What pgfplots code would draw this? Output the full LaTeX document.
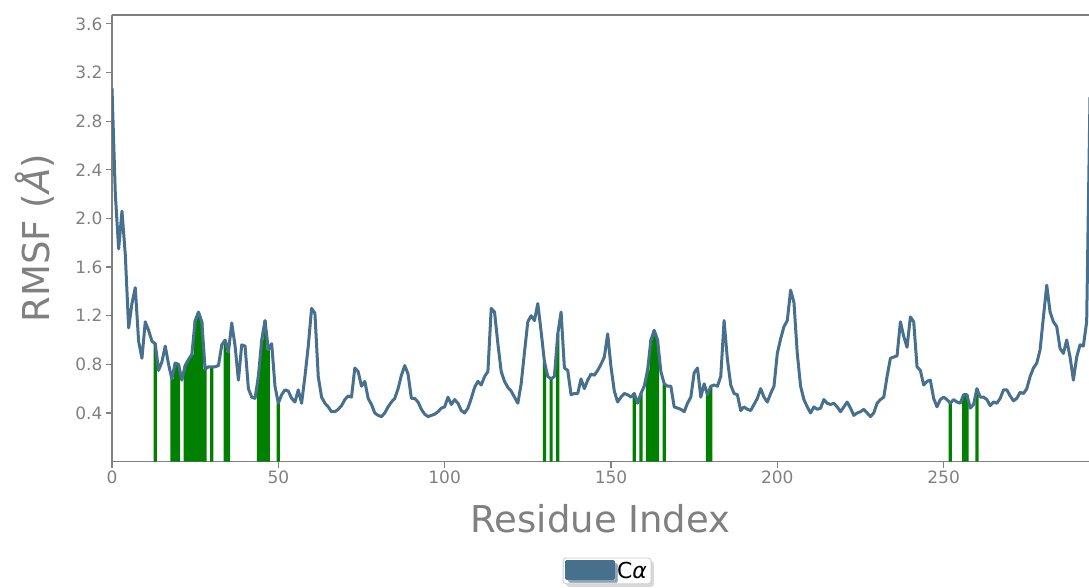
\documentclass[border=0pt]{standalone}
\usepackage{pgfplots}
\pgfplotsset{compat=1.18}
\usepackage{pgfplotstable}
\usepackage{fontspec}
\setmainfont{DejaVu Sans}
\usetikzlibrary{shadows}
\definecolor{rmsf}{HTML}{47708E}
\definecolor{bargreen}{HTML}{008000}
\definecolor{axgray}{HTML}{808080}

\pgfplotstableread{
r v
0 3.07
1 2.20
2 1.75
3 2.06
4 1.70
5 1.10
6 1.30
7 1.43
8 0.99
9 0.85
10 1.15
11 1.08
12 0.99
13 0.97
14 0.75
15 0.82
16 0.95
17 0.80
18 0.68
19 0.81
20 0.80
21 0.67
22 0.79
23 0.84
24 0.88
25 1.16
26 1.23
27 1.15
28 0.76
29 0.78
30 0.78
31 0.78
32 0.79
33 0.96
34 1.00
35 0.90
36 1.14
37 0.95
38 0.67
39 0.96
40 0.95
41 0.60
42 0.53
43 0.52
44 0.70
45 1.00
46 1.16
47 0.92
48 0.97
49 0.62
50 0.48
51 0.55
52 0.59
53 0.58
54 0.52
55 0.49
56 0.59
57 0.48
58 0.70
59 0.95
60 1.26
61 1.22
62 0.70
63 0.53
64 0.48
65 0.45
66 0.41
67 0.41
68 0.43
69 0.46
70 0.51
71 0.54
72 0.53
73 0.77
74 0.74
75 0.62
76 0.66
77 0.52
78 0.47
79 0.40
80 0.38
81 0.37
82 0.40
83 0.45
84 0.49
85 0.52
86 0.60
87 0.71
88 0.79
89 0.72
90 0.52
91 0.52
92 0.49
93 0.43
94 0.39
95 0.37
96 0.38
97 0.39
98 0.41
99 0.44
100 0.45
101 0.53
102 0.47
103 0.51
104 0.48
105 0.42
106 0.40
107 0.44
108 0.52
109 0.61
110 0.66
111 0.63
112 0.70
113 0.74
114 1.26
115 1.23
116 0.97
117 0.74
118 0.66
119 0.61
120 0.58
121 0.53
122 0.48
123 0.64
124 0.90
125 1.15
126 1.20
127 1.16
128 1.30
129 1.07
130 0.82
131 0.70
132 0.68
133 0.70
134 1.05
135 1.23
136 0.77
137 0.75
138 0.55
139 0.56
140 0.56
141 0.68
142 0.60
143 0.67
144 0.72
145 0.71
146 0.75
147 0.80
148 0.86
149 1.05
150 0.78
151 0.58
152 0.49
153 0.53
154 0.56
155 0.55
156 0.53
157 0.56
158 0.48
159 0.56
160 0.62
161 0.75
162 1.00
163 1.08
164 1.00
165 0.74
166 0.64
167 0.62
168 0.62
169 0.45
170 0.44
171 0.43
172 0.41
173 0.48
174 0.53
175 0.73
176 0.77
177 0.53
178 0.64
179 0.55
180 0.62
181 0.63
182 0.62
183 0.70
184 1.16
185 0.84
186 0.63
187 0.56
188 0.55
189 0.42
190 0.45
191 0.43
192 0.42
193 0.47
194 0.52
195 0.60
196 0.53
197 0.49
198 0.56
199 0.62
200 0.89
201 1.01
202 1.11
203 1.16
204 1.41
205 1.31
206 0.89
207 0.62
208 0.51
209 0.45
210 0.40
211 0.45
212 0.43
213 0.44
214 0.51
215 0.48
216 0.47
217 0.48
218 0.45
219 0.41
220 0.45
221 0.49
222 0.44
223 0.38
224 0.40
225 0.41
226 0.43
227 0.40
228 0.37
229 0.40
230 0.48
231 0.51
232 0.53
233 0.70
234 0.85
235 0.86
236 0.87
237 1.15
238 1.03
239 0.94
240 1.19
241 1.15
242 0.78
243 0.75
244 0.63
245 0.66
246 0.67
247 0.52
248 0.45
249 0.51
250 0.53
251 0.51
252 0.48
253 0.51
254 0.49
255 0.48
256 0.55
257 0.55
258 0.44
259 0.47
260 0.60
261 0.53
262 0.53
263 0.51
264 0.46
265 0.49
266 0.48
267 0.52
268 0.59
269 0.59
270 0.54
271 0.50
272 0.52
273 0.57
274 0.56
275 0.60
276 0.70
277 0.77
278 0.81
279 0.92
280 1.19
281 1.45
282 1.23
283 1.15
284 1.11
285 0.93
286 0.89
287 1.00
288 0.86
289 0.67
290 0.86
291 0.96
292 0.95
293 1.15
294 3.00
}\rmsfdata

\pgfplotstableread{
r v
13 0.97
18 0.68
19 0.81
20 0.80
22 0.79
23 0.84
24 0.88
25 1.16
26 1.23
27 1.15
28 0.76
30 0.78
34 1.00
35 0.90
44 0.70
45 1.00
46 1.16
47 0.92
50 0.48
130 0.82
132 0.68
134 1.05
157 0.56
159 0.56
161 0.75
162 1.00
163 1.08
164 1.00
166 0.64
179 0.55
180 0.62
252 0.48
256 0.55
257 0.55
260 0.60
}\greendata

\begin{document}
\begin{tikzpicture}
\useasboundingbox (-112pt,-126.4pt) rectangle (977pt,461.6pt);
\begin{axis}[
  scale only axis,
  width=977pt, height=446.6pt,
  xmin=0, xmax=293.7, ymin=0, ymax=3.673,
  axis lines*=left,
  xtick={0,50,100,150,200,250},
  ytick={0.4,0.8,1.2,1.6,2.0,2.4,2.8,3.2,3.6},
  /pgf/number format/assume math mode=true,
  yticklabel style={/pgf/number format/fixed, /pgf/number format/fixed zerofill, /pgf/number format/precision=1},
  tick label style={font=\fontsize{17}{20}\selectfont, text=axgray},
  axis line style={draw=axgray, line width=1.5pt, -},
  major tick style={draw=axgray, line width=1.2pt},
  major tick length=6pt,
  tick align=outside,
  xlabel={Residue Index},
  ylabel={RMSF (\textit{Å})},
  label style={font=\fontsize{37}{42}\selectfont, text=axgray},
  xlabel style={at={(axis description cs:0.5,0)}, anchor=base, yshift=-71pt},
  ylabel style={at={(axis description cs:-0.0635,0.5)}, anchor=base},
  legend style={at={(axis description cs:0.5067,0)}, anchor=north, yshift=-96pt,
    draw=gray!40, line width=0.8pt, fill=white, rounded corners=3pt,
    drop shadow={shadow xshift=3pt, shadow yshift=-3pt, fill=gray!60},
    font=\fontsize{22}{25}\selectfont, text=black, inner sep=2pt},
  legend image code/.code={\fill[rmsf, sharp corners] (-4pt,-8pt) rectangle (43pt,9pt);},
]
\addplot[ybar, bar width=3.2pt, fill=bargreen, draw=none, forget plot] table[x=r, y=v] {\greendata};
\addplot[rmsf, line width=3pt, line join=round, mark=none] table[x=r, y=v] {\rmsfdata};
\addlegendentry{C\textit{α}}
\draw[axgray, line width=1.5pt] (rel axis cs:0,1) -- (rel axis cs:1,1);
\end{axis}
\end{tikzpicture}
\end{document}
